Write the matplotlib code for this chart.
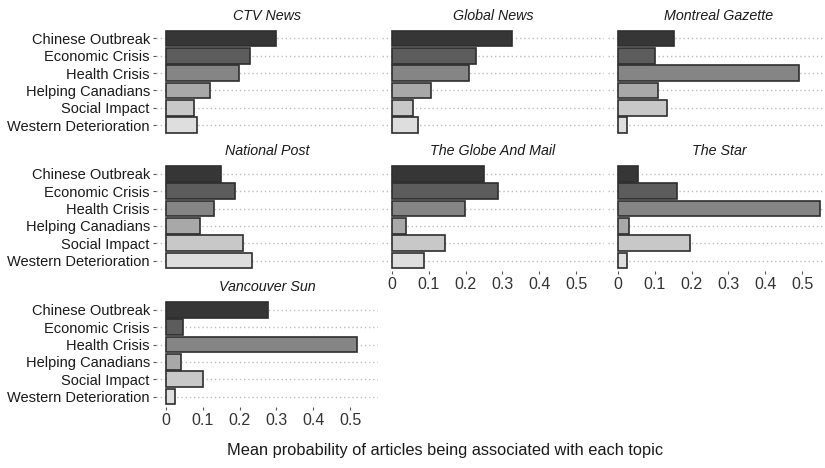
import matplotlib
matplotlib.use("Agg")
import matplotlib.pyplot as plt
import numpy as np

plt.rcParams['font.family'] = ['Liberation Sans', 'DejaVu Sans']

topics = ["Chinese Outbreak", "Economic Crisis", "Health Crisis",
          "Helping Canadians", "Social Impact", "Western Deterioration"]
outlets = ["CTV News", "Global News", "Montreal Gazette",
           "National Post", "The Globe And Mail", "The Star", "Vancouver Sun"]

ctv_news = [0.299, 0.229, 0.197, 0.118, 0.077, 0.084]
global_news = [0.325, 0.228, 0.209, 0.106, 0.056, 0.071]
montreal_gazette = [0.151, 0.100, 0.491, 0.109, 0.133, 0.024]
national_post = [0.149, 0.188, 0.131, 0.091, 0.210, 0.233]
globe_and_mail = [0.250, 0.287, 0.197, 0.038, 0.144, 0.088]
the_star = [0.055, 0.159, 0.548, 0.029, 0.195, 0.025]
vancouver_sun = [0.276, 0.045, 0.519, 0.041, 0.100, 0.024]

values = [ctv_news, global_news, montreal_gazette, national_post,
          globe_and_mail, the_star, vancouver_sun]

colors = ["#363636", "#5c5c5c", "#858585", "#a8a8a8", "#c8c8c8", "#dedede"]
xticks = [0, 0.1, 0.2, 0.3, 0.4, 0.5]
xticklabels = ["0", "0.1", "0.2", "0.3", "0.4", "0.5"]

W, H = 825, 468
fig = plt.figure(figsize=(W / 100, H / 100), dpi=100)

col_left = [156, 382, 608]
row_top = [28, 163.5, 299.5]
pw, ph = 221.7, 107.5

for i, (name, vals) in enumerate(zip(outlets, values)):
    r, c = divmod(i, 3)
    l = col_left[c]
    t = row_top[r]
    ax = fig.add_axes([l / W, 1 - (t + ph) / H, pw / W, ph / H])
    y = np.arange(len(topics))
    ax.barh(y, vals, height=0.9, color=colors, edgecolor="#2e2e2e",
            linewidth=1.2, zorder=3)
    ax.set_xlim(-0.0274, 0.575)
    ax.set_ylim(len(topics) - 0.4, -0.6)
    for yy in y:
        ax.axhline(yy, color="#bdbdbd", linestyle=(0, (1, 2)), linewidth=1.0,
                   zorder=1)
    for s in ax.spines.values():
        s.set_visible(False)
    ax.set_yticks(y)
    ax.set_xticks(xticks)
    ax.tick_params(axis="y", length=2.5, width=0.8, color="#555555", pad=2)
    ax.tick_params(axis="x", length=2.5, width=0.8, color="#555555", pad=1.5)
    if c == 0:
        ax.set_yticklabels(topics, fontsize=10.5, color="#1a1a1a")
    else:
        ax.set_yticklabels([])
        ax.tick_params(axis="y", length=0)
    bottom_in_col = (r == 2) or (r == 1 and c > 0)
    if bottom_in_col:
        ax.set_xticklabels(xticklabels, fontsize=11.5, color="#333333")
    else:
        ax.set_xticklabels([])
        ax.tick_params(axis="x", length=0)
    ax.text(0.5, 1 + 12.5 / ph, name, transform=ax.transAxes, ha="center",
            va="center", fontsize=10.3, fontstyle="italic", color="#1a1a1a")

fig.text(445 / W, 1 - 450 / H,
         "Mean probability of articles being associated with each topic",
         ha="center", va="center", fontsize=11.8, color="#1a1a1a")

fig.savefig("out.png", dpi=100)
